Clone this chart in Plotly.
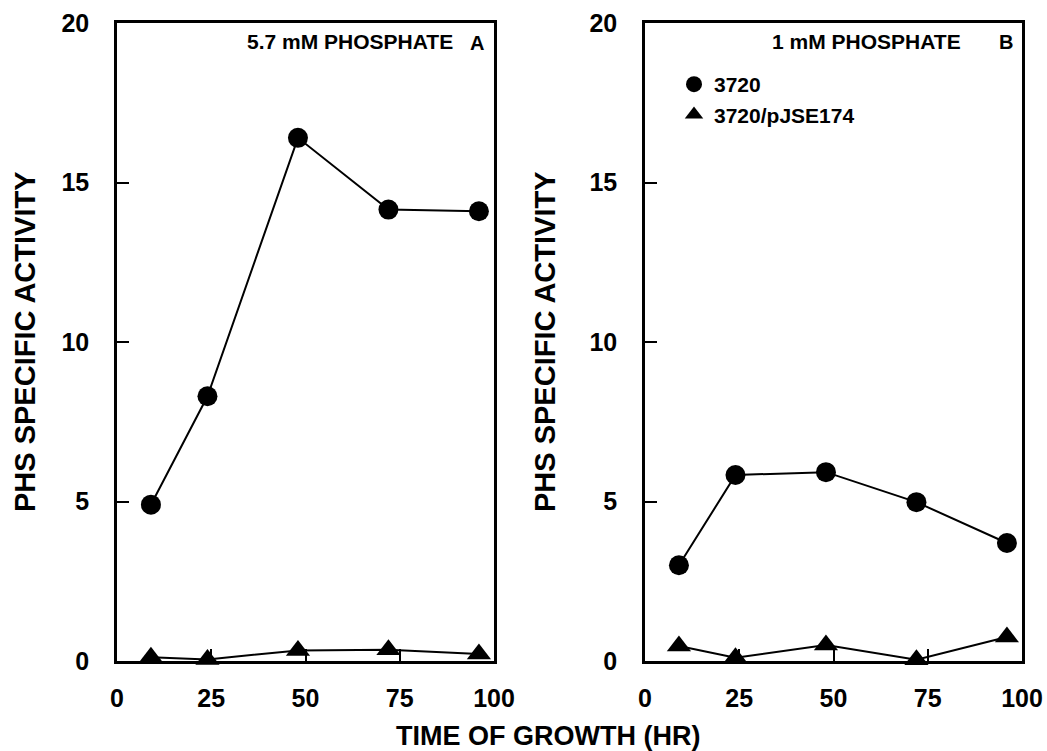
import plotly.graph_objects as go

# ---- data ----
time_hr = [9, 24, 48, 72, 96]
a_3720 = [4.9, 8.3, 16.4, 14.15, 14.1]
a_pjse174 = [0.12, 0.05, 0.33, 0.35, 0.22]
b_3720 = [3.0, 5.83, 5.92, 4.98, 3.7]
b_pjse174 = [0.47, 0.1, 0.5, 0.04, 0.75]

x_ticks = [0, 25, 50, 75, 100]
y_ticks = [0, 5, 10, 15, 20]
series_names = ["3720", "3720/pJSE174"]
panel_titles = ["5.7 mM PHOSPHATE", "1 mM PHOSPHATE"]
panel_letters = ["A", "B"]
y_title = "PHS SPECIFIC ACTIVITY"
x_title = "TIME OF GROWTH (HR)"

FONT = "Liberation Sans, Arial, sans-serif"
W, H = 1047, 751


def px(x):
    return x / W


def py(y):
    return 1 - y / H


fig = go.Figure()

panels = [("x", "y", a_3720, a_pjse174), ("x2", "y2", b_3720, b_pjse174)]
for i, (xa, ya, circ, tri) in enumerate(panels):
    for vals, sym, msize, name in [(circ, "circle", 20, series_names[0]),
                                   (tri, "triangle-up", 21, series_names[1])]:
        fig.add_trace(go.Scatter(
            x=time_hr, y=vals, xaxis=xa, yaxis=ya, mode="lines",
            line=dict(color="black", width=2), showlegend=False,
            hoverinfo="skip", cliponaxis=False))
        fig.add_trace(go.Scatter(
            x=time_hr, y=vals, xaxis=xa, yaxis=ya, mode="markers",
            marker=dict(symbol=sym, size=msize, color="black"),
            name=name, showlegend=(i == 1), cliponaxis=False))

xdom1 = [px(117), px(494)]
xdom2 = [px(645), px(1022)]
ydom = [py(661), py(23)]

axis_common = dict(
    showgrid=False, zeroline=False, showline=True, linecolor="black",
    linewidth=2.5, mirror=True, ticks="inside", ticklen=12, tickwidth=1.5,
    tickcolor="black", automargin=False,
)
xaxis_common = dict(axis_common, range=[0, 100], tickvals=x_ticks,
                    ticktext=[str(v) for v in x_ticks],
                    tickfont=dict(family=FONT, size=25, color="black", weight="bold"),
                    ticklabelstandoff=13)
yaxis_common = dict(axis_common, range=[0, 20], tickvals=y_ticks,
                    ticktext=[str(v) for v in y_ticks],
                    tickfont=dict(family=FONT, size=25, color="black", weight="bold"),
                    ticklabelstandoff=20)

fig.update_layout(
    width=W, height=H, margin=dict(l=0, r=0, t=0, b=0),
    paper_bgcolor="white", plot_bgcolor="white",
    xaxis=dict(xaxis_common, domain=xdom1, anchor="y"),
    yaxis=dict(yaxis_common, domain=ydom, anchor="x"),
    xaxis2=dict(xaxis_common, domain=xdom2, anchor="y2"),
    yaxis2=dict(yaxis_common, domain=ydom, anchor="x2"),
    showlegend=True,
    legend=dict(x=px(674), y=py(64), xanchor="left", yanchor="top",
                bgcolor="rgba(0,0,0,0)", borderwidth=0,
                font=dict(family=FONT, size=21, color="black", weight="bold"),
                itemsizing="trace", tracegroupgap=0),
)

ann = []
# y-axis titles
for xc in [25, 545]:
    ann.append(dict(x=px(xc), y=py(342), xref="paper", yref="paper",
                    text=y_title, textangle=-90, showarrow=False,
                    xanchor="center", yanchor="middle",
                    font=dict(family=FONT, size=29, color="black", weight="bold")))
# x title
ann.append(dict(x=px(548), y=py(736), xref="paper", yref="paper",
                text=x_title, showarrow=False, xanchor="center", yanchor="middle",
                font=dict(family=FONT, size=27, color="black", weight="bold")))
# panel labels
ann.append(dict(x=px(455), y=py(42), xref="paper", yref="paper",
                text=panel_titles[0], showarrow=False, xanchor="right", yanchor="middle",
                font=dict(family=FONT, size=21, color="black", weight="bold")))
ann.append(dict(x=px(477), y=py(43), xref="paper", yref="paper",
                text=panel_letters[0], showarrow=False, xanchor="center", yanchor="middle",
                font=dict(family=FONT, size=20, color="black", weight="bold")))
ann.append(dict(x=px(963), y=py(42), xref="paper", yref="paper",
                text=panel_titles[1], showarrow=False, xanchor="right", yanchor="middle",
                font=dict(family=FONT, size=21, color="black", weight="bold")))
ann.append(dict(x=px(1006), y=py(42), xref="paper", yref="paper",
                text=panel_letters[1], showarrow=False, xanchor="center", yanchor="middle",
                font=dict(family=FONT, size=20, color="black", weight="bold")))
fig.update_layout(annotations=ann)

fig.write_html(
    "out.html",
    config={"displayModeBar": False},
    post_script="document.body.style.margin='0px';document.body.style.overflow='hidden';",
)
